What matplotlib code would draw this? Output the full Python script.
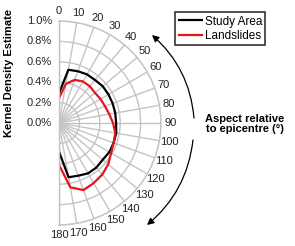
import numpy as np
import matplotlib
matplotlib.use('Agg')
import matplotlib.pyplot as plt

plt.rcParams['font.family'] = ['Liberation Sans', 'DejaVu Sans']

# aspect relative to epicentre, degrees
aspect = [0, 10, 20, 30, 40, 50, 60, 70, 80, 90, 100, 110, 120, 130, 140, 150, 160, 170, 180]
# kernel density estimate, percent
study_area = [0.29, 0.53, 0.54, 0.55, 0.55, 0.56, 0.56, 0.56, 0.56, 0.56,
              0.57, 0.57, 0.57, 0.56, 0.57, 0.57, 0.55, 0.54, 0.28]
landslides = [0.245, 0.39, 0.45, 0.47, 0.47, 0.46, 0.47, 0.48, 0.50, 0.53,
              0.56, 0.57, 0.59, 0.63, 0.66, 0.68, 0.70, 0.64, 0.41]
r_ticks = [0.0, 0.2, 0.4, 0.6, 0.8, 1.0]
r_labels = ['0.0%', '0.2%', '0.4%', '0.6%', '0.8%', '1.0%']

fig = plt.figure(figsize=(2.95, 2.46), dpi=100)
# square box; the right half-disc gets centred inside it
ax = fig.add_axes([8 / 295, 21 / 246, 204 / 295, 204 / 246], projection='polar')
ax.set_theta_zero_location('N')
ax.set_theta_direction(-1)
ax.set_thetamin(0)
ax.set_thetamax(180)
ax.set_ylim(0, 1.0)

th = np.deg2rad(aspect)
ax.plot(th, study_area, color='black', lw=1.6, label='Study Area')
ax.plot(th, landslides, color='#e8141b', lw=1.6, label='Landslides')

ax.set_xticks(np.deg2rad(aspect))
ax.set_xticklabels([str(a) for a in aspect])
ax.set_yticks(r_ticks)
ax.set_yticklabels(r_labels)
ax.tick_params(axis='both', labelsize=8, colors='#222222', length=0)
ax.tick_params(axis='x', pad=0)
ax.tick_params(axis='y', pad=5)
ax.grid(True, color='#c4c4c4', lw=1.0)
for s in ax.spines.values():
    s.set_color('#c4c4c4')
    s.set_linewidth(1.0)

fig.text(9 / 295, 1 - 73 / 246, 'Kernel Density Estimate', rotation=90,
         ha='center', va='center', fontsize=8, fontweight='bold')

leg = fig.legend(loc='upper left', bbox_to_anchor=(175 / 295, 1 - 12 / 246),
                 fontsize=8.5, frameon=True, fancybox=False, handlelength=2.0,
                 borderpad=0.3, labelspacing=0.2, handletextpad=0.2, borderaxespad=0)
leg.get_frame().set_edgecolor('black')
leg.get_frame().set_linewidth(1.2)

ax.annotate('', xy=(152, 211), xytext=(194, 128), xycoords='figure pixels',
            textcoords='figure pixels',
            arrowprops=dict(arrowstyle='-|>', color='black', lw=0.9,
                            mutation_scale=10, connectionstyle='arc3,rad=0.2',
                            shrinkA=0, shrinkB=0))
ax.annotate('', xy=(147, 21), xytext=(193, 106), xycoords='figure pixels',
            textcoords='figure pixels',
            arrowprops=dict(arrowstyle='-|>', color='black', lw=0.9,
                            mutation_scale=10, connectionstyle='arc3,rad=-0.2',
                            shrinkA=0, shrinkB=0))

fig.text(245 / 295, 1 - 124 / 246, 'Aspect relative\nto epicentre (°)',
         ha='center', va='center', fontsize=8, fontweight='bold', linespacing=1.1)

fig.savefig('out.png', dpi=100)
